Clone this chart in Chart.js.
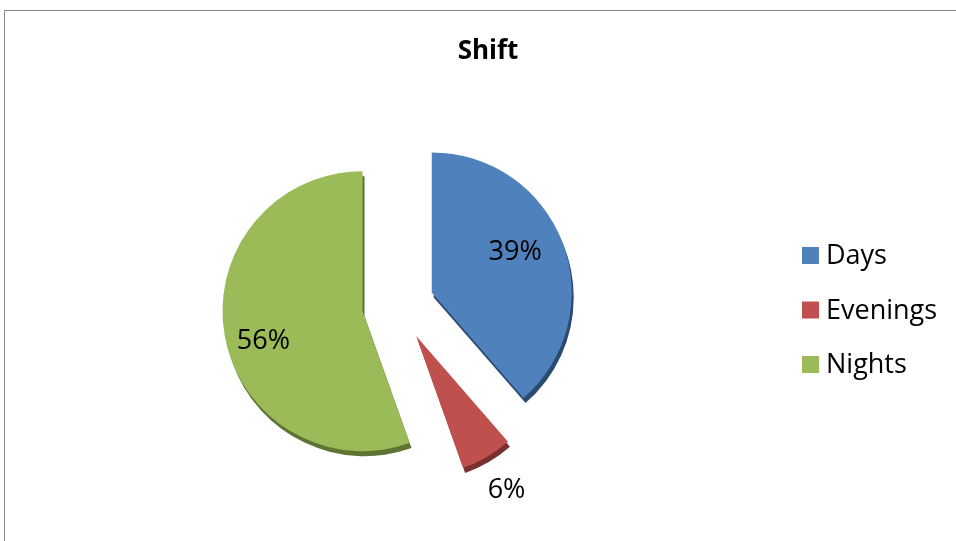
<!DOCTYPE html>
<html>
<head>
<meta charset="utf-8">
<script src="https://cdn.jsdelivr.net/npm/chart.js@4/dist/chart.umd.min.js"></script>
<style>
  html, body { margin: 0; padding: 0; background: #fff; overflow: hidden; }
  #frame { position: absolute; left: 4px; top: 10px; width: 1000px; height: 560px;
           border-left: 1px solid #898989; border-top: 1px solid #898989; }
  #chart { position: absolute; left: 0; top: 0; }
</style>
</head>
<body>
<div id="frame"><canvas id="chart" width="966" height="530"></canvas></div>
<script>
// data
const title = 'Shift'
const categories = ['Days', 'Evenings', 'Nights']
const shares = [39, 6, 56]
const percentLabels = ['39%', '6%', '56%']

const colors = ['#4F81BD', '#C0504D', '#9BBB59']
const sideColors = ['#2B4A70', '#76302E', '#5E7433']
const labelReach = [0.66, 1.28, 0.74]   // label distance as part of radius
const labelTurn = [-5, 0, -7]           // degrees, excel puts them a bit anticlockwise
const EXPLODE = 36
const FONT = '"Open Sans", "DejaVu Sans", sans-serif'

// push every slice out from the centre along its middle angle
const explodePlugin = {
  id: 'explode',
  afterDatasetsUpdate(chart) {
    const area = chart.chartArea
    const cx = (area.left + area.right) / 2
    const cy = (area.top + area.bottom) / 2
    chart.getDatasetMeta(0).data.forEach(arc => {
      const mid = (arc.startAngle + arc.endAngle) / 2
      arc.x = cx + Math.cos(mid) * EXPLODE
      arc.y = cy + Math.sin(mid) * EXPLODE
    })
  }
}

// dark side under each slice for the 3d look
const depthPlugin = {
  id: 'depth',
  beforeDatasetsDraw(chart) {
    const ctx = chart.ctx
    chart.getDatasetMeta(0).data.forEach((arc, i) => {
      const { x, y, startAngle, endAngle, outerRadius } = arc
      ctx.save()
      ctx.translate(2, 5)
      ctx.beginPath()
      ctx.moveTo(x, y)
      ctx.arc(x, y, outerRadius, startAngle, endAngle)
      ctx.closePath()
      ctx.fillStyle = sideColors[i]
      ctx.fill()
      ctx.restore()
    })
  }
}

const percentPlugin = {
  id: 'percentLabels',
  afterDatasetsDraw(chart) {
    const ctx = chart.ctx
    ctx.save()
    ctx.font = '27px ' + FONT
    ctx.fillStyle = '#000'
    ctx.textAlign = 'center'
    ctx.textBaseline = 'middle'
    chart.getDatasetMeta(0).data.forEach((arc, i) => {
      const mid = (arc.startAngle + arc.endAngle) / 2 + labelTurn[i] * Math.PI / 180
      const r = arc.outerRadius * labelReach[i]
      ctx.fillText(percentLabels[i], arc.x + Math.cos(mid) * r, arc.y + Math.sin(mid) * r)
    })
    ctx.restore()
  }
}

// title and legend sit over the whole frame, not over the pie area
const sideLegend = {
  id: 'sideLegend',
  afterDraw(chart) {
    const ctx = chart.ctx
    ctx.save()
    ctx.fillStyle = '#000'
    ctx.font = 'bold 26px ' + FONT
    ctx.textAlign = 'center'
    ctx.textBaseline = 'alphabetic'
    ctx.fillText(title, 483, 48)

    const left = 797, top = 244.5, step = 54.5, box = 17
    ctx.font = '27px ' + FONT
    ctx.textAlign = 'left'
    ctx.textBaseline = 'middle'
    chart.data.labels.forEach((label, i) => {
      const y = top + i * step
      ctx.fillStyle = chart.data.datasets[0].backgroundColor[i]
      ctx.fillRect(left, y - box / 2, box, box)
      ctx.fillStyle = '#000'
      ctx.fillText(label, left + 24, y + 1)
    })
    ctx.restore()
  }
}

const chart = new Chart(document.getElementById('chart'), {
  type: 'pie',
  data: {
    labels: categories,
    datasets: [{
      data: shares,
      backgroundColor: colors,
      borderWidth: 0,
      radius: 140
    }]
  },
  options: {
    responsive: false,
    animation: false,
    events: [],
    layout: { padding: { top: 64, right: 180, bottom: 6, left: 0 } },
    plugins: {
      legend: { display: false },
      tooltip: { enabled: false },
      title: { display: false }
    }
  },
  plugins: [explodePlugin, depthPlugin, percentPlugin, sideLegend]
})
</script>
</body>
</html>
